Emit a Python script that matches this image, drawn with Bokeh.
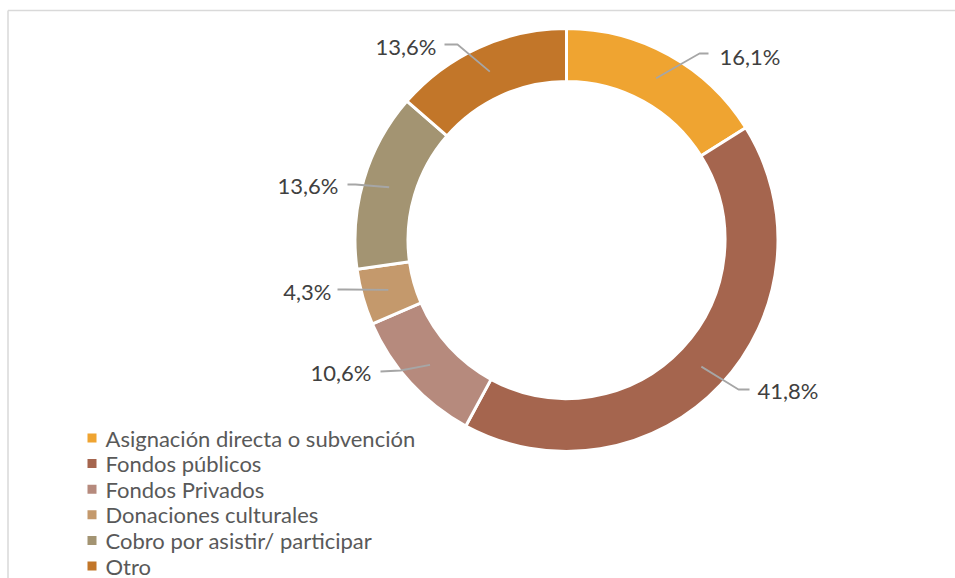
import math
from bokeh.plotting import figure
from bokeh.models import Range1d, ColumnDataSource
from bokeh.core.properties import value
from bokeh.embed import file_html
from bokeh.resources import INLINE

# ---- data ----
categories = ["Asignación directa o subvención", "Fondos públicos", "Fondos Privados",
              "Donaciones culturales", "Cobro por asistir/ participar", "Otro"]
shares = [16.1, 41.8, 10.6, 4.3, 13.6, 13.6]
labels = ["16,1%", "41,8%", "10,6%", "4,3%", "13,6%", "13,6%"]
colors = ["#EFA431", "#A5654E", "#B68A7D", "#C4996C", "#A39472", "#C27629"]

# ---- layout (screen pixels) ----
W, H = 955, 578
OFF = 0
def sy(y):  # screen y -> data y
    return 578 - y

CX, CY = 566, 239.5
R_OUT, R_IN = 210, 160
GAP = 3

# label text anchor (x, y, align) and leader elbow/end points
label_pos = [(719, 56, "left"), (757, 390, "left"), (371, 372, "right"),
             (331, 291, "right"), (338, 185, "right"), (436, 46, "right")]
leader_pts = [((699, 53), (708, 53)), ((738, 389), (749, 389)), ((400, 370), (380, 371)),
              ((345, 289), (337, 289)), ((355, 184), (347, 184)), ((457, 44), (444, 44))]

p = figure(width=W, height=H, output_backend="svg", toolbar_location=None,
           x_range=Range1d(OFF, OFF + W), y_range=Range1d(sy(OFF + H), sy(OFF)),
           min_border=0, outline_line_color=None)
p.axis.visible = False
p.grid.visible = False
p.background_fill_color = "white"

# frame border (top/left visible)
p.line([7.5, 7.5], [sy(578), sy(10)], line_color="#D9D9D9", line_width=1.5)
p.line([7.5, 955], [sy(10), sy(10)], line_color="#D9D9D9", line_width=1.5)

total = sum(shares)
starts, ends, mids = [], [], []
cum = 0.0
for v in shares:
    a0 = math.pi / 2 - 2 * math.pi * cum / total
    cum += v
    a1 = math.pi / 2 - 2 * math.pi * cum / total
    starts.append(a0)
    ends.append(a1)
    mids.append((a0 + a1) / 2)

src = ColumnDataSource(dict(start=starts, end=ends, color=colors))
p.annular_wedge(x=CX, y=sy(CY), inner_radius=R_IN - GAP / 2, outer_radius=R_OUT + GAP / 2,
                start_angle="start", end_angle="end", direction="clock",
                fill_color="color", line_color="white", line_width=GAP, source=src)

# leader lines
r_mid = (R_IN + R_OUT) / 2
xs, ys = [], []
for m, (elbow, end) in zip(mids, leader_pts):
    ax = CX + r_mid * math.cos(m)
    ay = CY - r_mid * math.sin(m)
    xs.append([ax, elbow[0], end[0]])
    ys.append([sy(ay), sy(elbow[1]), sy(end[1])])
p.multi_line(xs, ys, line_color="#A6A6A6", line_width=1.8)

FONT = "Lato"
for lab, (lx, ly, al) in zip(labels, label_pos):
    p.text(x=[lx], y=[sy(ly)], text=[lab], text_align=al, text_baseline="middle",
           text_font=value(FONT), text_font_size="22px", text_color="#404040")

# legend
LX, LY0, LDY = 91.5, 437.5, 25.6
for i, (c, name) in enumerate(zip(colors, categories)):
    yy = sy(LY0 + i * LDY)
    p.scatter([LX], [yy], marker="square", size=9, fill_color=c, line_color=None)
    p.text(x=[105], y=[yy], text=[name], text_align="left", text_baseline="middle",
           text_font=value(FONT), text_font_size="22px", text_color="#595959")

open("out.html", "w").write(file_html(p, INLINE))
